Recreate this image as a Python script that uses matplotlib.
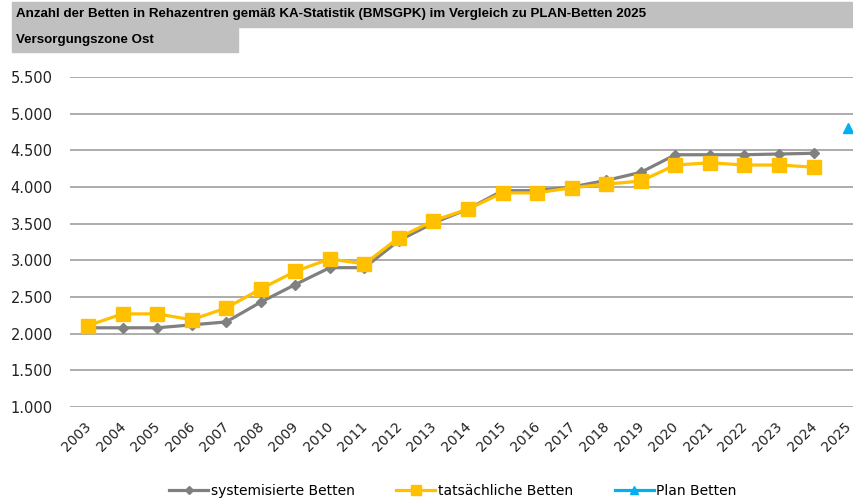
import matplotlib
matplotlib.use("Agg")
import matplotlib.pyplot as plt
import matplotlib.transforms as mtransforms
from matplotlib.patches import Rectangle
from matplotlib.ticker import FuncFormatter

years = list(range(2003, 2026))
sys_years = list(range(2003, 2025))
systemisierte = [2080, 2080, 2080, 2120, 2160, 2430, 2670, 2900, 2900, 3270, 3510,
                 3700, 3950, 3950, 4000, 4090, 4200, 4440, 4440, 4440, 4450, 4460]
tatsaechliche = [2110, 2270, 2270, 2190, 2350, 2610, 2850, 3020, 2950, 3310, 3540,
                 3700, 3920, 3920, 3990, 4040, 4080, 4300, 4330, 4300, 4300, 4270]
plan_years = [2025]
plan = [4810]

title1 = "Anzahl der Betten in Rehazentren gemäß KA-Statistik (BMSGPK) im Vergleich zu PLAN-Betten 2025"
title2 = "Versorgungszone Ost"

W, H = 854, 504
fig = plt.figure(figsize=(W / 100, H / 100), dpi=100)
ax = fig.add_axes([70 / W, 1 - 407 / H, (854 - 70) / W, (407 - 77) / H])

ax.plot(sys_years, systemisierte, color="#808080", lw=2.3, marker="D", ms=5.5,
        label="systemisierte Betten", zorder=3)
ax.plot(sys_years, tatsaechliche, color="#FFC000", lw=2.3, marker="s", ms=9.5,
        label="tatsächliche Betten", zorder=4)
ax.plot(plan_years, plan, color="#00B0F0", lw=2.3, marker="^", ms=7.5, ls="-",
        label="Plan Betten", zorder=5)

ax.set_xlim(2002.48, 2025.17)
ax.set_ylim(1000, 5500)
ax.set_yticks(range(1000, 5501, 500))
ax.yaxis.set_major_formatter(FuncFormatter(lambda v, p: f"{int(v):,}".replace(",", ".")))
ax.set_xticks(years)
ax.set_xticklabels([])

# x tick labels, drawn at each category position with a small leftward shift
base = mtransforms.blended_transform_factory(ax.transData, ax.transAxes)
shift = mtransforms.ScaledTranslation(-4 / 100, -12 / 100, fig.dpi_scale_trans)
for y in years:
    ax.text(y, 0, str(y), transform=base + shift, rotation=45, ha="right", va="top",
            rotation_mode="anchor", fontsize=10, color="#222222", clip_on=False)

ax.grid(axis="y", color="#a6a6a6", lw=1.3)
ax.set_axisbelow(True)
for s in ax.spines.values():
    s.set_visible(False)
ax.tick_params(axis="both", length=0)
ax.tick_params(axis="y", labelsize=10.5, pad=12.5, colors="#222222")

# title boxes
fig.patches.append(Rectangle((12 / W, 1 - 27 / H), (854 - 12) / W, 25 / H,
                             transform=fig.transFigure, color="#c0c0c0", zorder=0))
fig.patches.append(Rectangle((12 / W, 1 - 52 / H), (238 - 12) / W, 24 / H,
                             transform=fig.transFigure, color="#c0c0c0", zorder=0))
fig.text(16 / W, 1 - 14.5 / H, title1, fontsize=9.6, fontweight="bold", va="center",
         ha="left", family="Liberation Sans")
fig.text(16 / W, 1 - 40 / H, title2, fontsize=9.6, fontweight="bold", va="center",
         ha="left", family="Liberation Sans")

fig.legend(loc="center", bbox_to_anchor=(453 / W, 1 - 491 / H), ncol=3, frameon=False,
           fontsize=10, handlelength=2.8, columnspacing=3.0, handletextpad=0.2,
           markerscale=0.75)

fig.savefig("out.png", dpi=100)
